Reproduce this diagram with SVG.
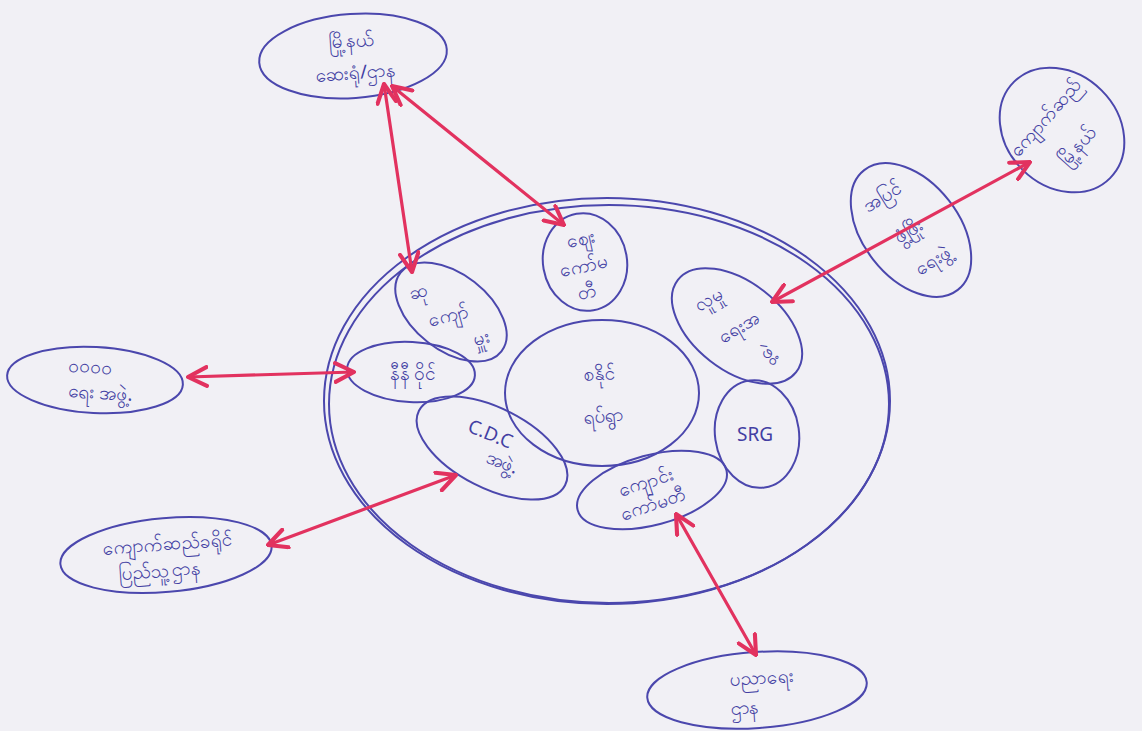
<svg xmlns="http://www.w3.org/2000/svg" width="1142" height="731" viewBox="0 0 1142 731">
<style>
.e{fill:none;stroke:#4b47ad;stroke-width:2}
.t{font-family:"Noto Sans","DejaVu Sans",sans-serif;font-size:19px;fill:#433fa3;text-anchor:middle}
.a{stroke:#e2325f;stroke-width:3.2;fill:none;stroke-linecap:round}
</style>
<defs>
<marker id="h" viewBox="0 0 12 12" refX="11" refY="6" markerWidth="7" markerHeight="7" orient="auto-start-reverse" markerUnits="strokeWidth">
<path d="M1,1 L11,6 L1,11" fill="none" stroke="#e2325f" stroke-width="2.2" stroke-linecap="round" stroke-linejoin="round"/>
</marker>
</defs>
<rect width="1142" height="731" fill="#f1f0f5"/>

<g id="community-boundary">
<ellipse class="e" cx="607" cy="401" rx="283" ry="203"/>
<ellipse class="e" cx="609" cy="404" rx="280" ry="199" stroke-width="1.5"/>
</g>

<g id="center">
<ellipse class="e" cx="602" cy="393" rx="97" ry="73"/>
<text class="t" x="600" y="380" font-size="22" transform="rotate(-5 600 380)">စနိုင်</text>
<text class="t" x="604" y="422" font-size="22" transform="rotate(-5 604 422)">ရပ်ရွာ</text>
</g>

<g id="n-market">
<ellipse class="e" cx="585" cy="262" rx="42" ry="49" transform="rotate(-10 585 262)"/>
<text class="t" x="582" y="245" font-size="17" transform="rotate(-12 582 245)">ဈေး</text>
<text class="t" x="585" y="272" font-size="17" transform="rotate(-12 585 272)">ကော်မ</text>
<text class="t" x="588" y="298" font-size="17" transform="rotate(-12 588 298)">တီ</text>
</g>

<g id="n-leader">
<ellipse class="e" cx="451" cy="312" rx="64" ry="38" transform="rotate(38 451 312)"/>
<text class="t" x="420" y="298" font-size="17" transform="rotate(-15 420 298)">ဆု</text>
<text class="t" x="450" y="322" font-size="17" transform="rotate(-15 450 322)">ကျော်</text>
<text class="t" x="483" y="344" font-size="17" transform="rotate(-15 483 344)">မှူး</text>
</g>

<g id="n-nini">
<ellipse class="e" cx="411" cy="372" rx="64" ry="30" transform="rotate(3 411 372)"/>
<text class="t" x="413" y="380" font-size="19">နီနီ ဝိုင်</text>
</g>

<g id="n-cdc">
<ellipse class="e" cx="492" cy="448" rx="82" ry="40" transform="rotate(27 492 448)"/>
<text class="t" x="488" y="440" font-size="18" transform="rotate(22 488 440)">C.D.C</text>
<text class="t" x="500" y="468" font-size="18" transform="rotate(22 500 468)">အဖွဲ့.</text>
</g>

<g id="n-social">
<ellipse class="e" cx="737" cy="326" rx="75" ry="44" transform="rotate(38 737 326)"/>
<text class="t" x="712" y="305" font-size="17" transform="rotate(-30 712 305)">လူမှု</text>
<text class="t" x="742" y="333" font-size="17" transform="rotate(-30 742 333)">ရေးအ</text>
<text class="t" x="770" y="357" font-size="17" transform="rotate(-30 770 357)">ဖွဲ့</text>
</g>

<g id="n-srg">
<ellipse class="e" cx="757" cy="434" rx="42" ry="54" transform="rotate(-8 757 434)"/>
<text class="t" x="755" y="441" font-size="19">SRG</text>
</g>

<g id="n-school">
<ellipse class="e" cx="652" cy="490" rx="77" ry="35" transform="rotate(-15 652 490)"/>
<text class="t" x="648" y="488" font-size="17" transform="rotate(-18 648 488)">ကျောင်း</text>
<text class="t" x="655" y="510" font-size="17" transform="rotate(-18 655 510)">ကော်မတီ</text>
</g>

<g id="o-township">
<ellipse class="e" cx="353" cy="56" rx="94" ry="42" transform="rotate(-4 353 56)"/>
<text class="t" x="352" y="47" font-size="19" transform="rotate(-4 352 47)">မြို့နယ်</text>
<text class="t" x="356" y="79" font-size="19" transform="rotate(-4 356 79)">ဆေးရုံ/ဌာန</text>
</g>

<g id="o-kyaukse">
<ellipse class="e" cx="1062" cy="130" rx="68" ry="56" transform="rotate(45 1062 130)"/>
<text class="t" x="1050" y="122" font-size="15" transform="rotate(-48 1050 122)">ကျောက်ဆည်</text>
<text class="t" x="1082" y="150" font-size="16" transform="rotate(-48 1082 150)">မြို့နယ်</text>
</g>

<g id="o-donor">
<ellipse class="e" cx="911" cy="230" rx="76" ry="48" transform="rotate(52 911 230)"/>
<text class="t" x="886" y="202" font-size="16" transform="rotate(-32 886 202)">အပြင်</text>
<text class="t" x="912" y="236" font-size="16" transform="rotate(-32 912 236)">ဖွံ့ဖြိုး</text>
<text class="t" x="936" y="266" font-size="16" transform="rotate(-32 936 266)">ရေးဖွဲ့</text>
</g>

<g id="o-left">
<ellipse class="e" cx="95" cy="380" rx="88" ry="33" transform="rotate(3 95 380)"/>
<text class="t" x="90" y="373" font-size="18" transform="rotate(3 90 373)">ဝဝဝဝ</text>
<text class="t" x="100" y="399" font-size="18" transform="rotate(3 100 399)">ရေး အဖွဲ့.</text>
</g>

<g id="o-bottomleft">
<ellipse class="e" cx="166" cy="555" rx="106" ry="37" transform="rotate(-5 166 555)"/>
<text class="t" x="168" y="550" font-size="17" transform="rotate(-4 168 550)">ကျောက်ဆည်ခရိုင်</text>
<text class="t" x="160" y="577" font-size="17" transform="rotate(-4 160 577)">ပြည်သူ့ဌာန</text>
</g>

<g id="o-education">
<ellipse class="e" cx="757" cy="690" rx="110" ry="38" transform="rotate(-4 757 690)"/>
<text class="t" x="762" y="684" font-size="20" transform="rotate(-4 762 684)">ပညာရေး</text>
<text class="t" x="745" y="714" font-size="20" transform="rotate(-4 745 714)">ဌာန</text>
</g>

<g id="connectors">
<line class="a" x1="384" y1="84" x2="412" y2="272" marker-start="url(#h)" marker-end="url(#h)"/>
<line class="a" x1="392" y1="86" x2="564" y2="225" marker-start="url(#h)" marker-end="url(#h)"/>
<line class="a" x1="772" y1="302" x2="1030" y2="162" marker-start="url(#h)" marker-end="url(#h)"/>
<line class="a" x1="188" y1="377" x2="354" y2="372" marker-start="url(#h)" marker-end="url(#h)"/>
<line class="a" x1="268" y1="545" x2="456" y2="475" marker-start="url(#h)" marker-end="url(#h)"/>
<line class="a" x1="676" y1="514" x2="756" y2="655" marker-start="url(#h)" marker-end="url(#h)"/>
</g>
</svg>
